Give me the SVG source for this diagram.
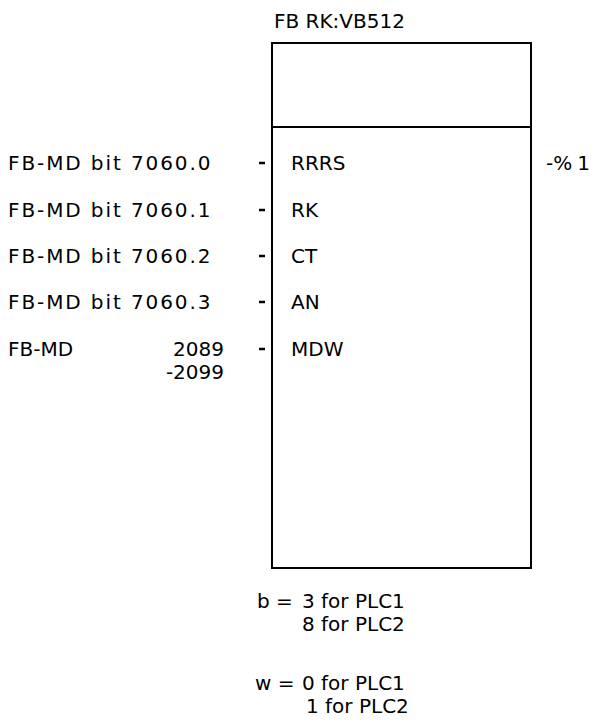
<svg xmlns="http://www.w3.org/2000/svg" width="602" height="726" viewBox="0 0 602 726">
<style>
text{font-family:"DejaVu Sans","Noto Sans",sans-serif;font-size:20px;fill:#000}
.lbl{letter-spacing:1.9px}
.box{fill:none;stroke:#000;stroke-width:2}
.pin{stroke:#000;stroke-width:2.5}
</style>
<rect width="602" height="726" fill="#fff"/>
<g id="fb-block">
<text x="274" y="28">FB RK:VB512</text>
<rect class="box" x="272" y="43" width="259" height="525"/>
<line class="box" x1="272" y1="127" x2="531" y2="127"/>
<text x="291" y="170">RRRS</text>
<text x="291" y="217">RK</text>
<text x="291" y="263">CT</text>
<text x="291" y="309">AN</text>
<text x="291" y="356">MDW</text>
</g>
<g id="in-rrrs"><text class="lbl" x="8" y="170">FB-MD bit 7060.0</text></g>
<g id="in-rk"><text class="lbl" x="8" y="217">FB-MD bit 7060.1</text></g>
<g id="in-ct"><text class="lbl" x="8" y="263">FB-MD bit 7060.2</text></g>
<g id="in-an"><text class="lbl" x="8" y="309">FB-MD bit 7060.3</text></g>
<g id="in-mdw">
<text x="8" y="356">FB-MD</text>
<text x="224" y="356" text-anchor="end">2089</text>
<text x="224" y="379" text-anchor="end">-2099</text>
</g>
<g id="out-q"><text x="546" y="170">-%<tspan dx="5">1</tspan></text></g>
<g id="connectors">
<line class="pin" x1="259" y1="163" x2="265" y2="163"/>
<line class="pin" x1="259" y1="210" x2="265" y2="210"/>
<line class="pin" x1="259" y1="256" x2="265" y2="256"/>
<line class="pin" x1="259" y1="302" x2="265" y2="302"/>
<line class="pin" x1="259" y1="349" x2="265" y2="349"/>
</g>
<g id="notes">
<text x="257" y="608">b =</text>
<text x="302" y="608">3 for PLC1</text>
<text x="302" y="631">8 for PLC2</text>
<text x="255" y="690">w =</text>
<text x="302" y="690">0 for PLC1</text>
<text x="306" y="713">1 for PLC2</text>
</g>
</svg>
